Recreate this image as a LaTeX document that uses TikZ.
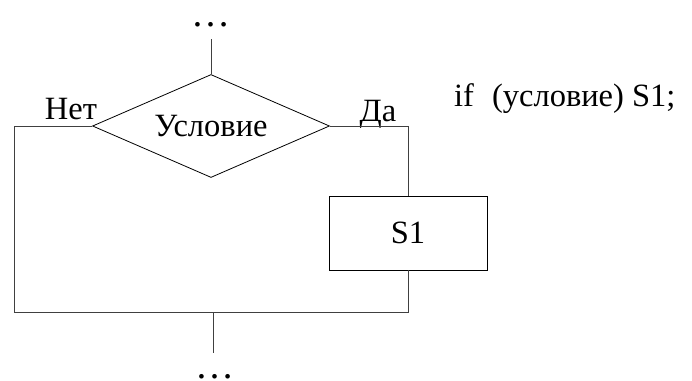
\documentclass[tikz,border=0pt]{standalone}
\usepackage{fontspec}
\setmainfont{Liberation Serif}
\usetikzlibrary{shapes.geometric}
\begin{document}
\begin{tikzpicture}[x=1pt,y=-1pt,
  line/.style={draw=black!75, line width=0.8pt},
  shapebox/.style={draw=black, line width=0.8pt},
  lbl/.style={font=\fontsize{32.5}{38}\selectfont, inner sep=0pt},
  dotlbl/.style={font=\fontsize{39}{44}\selectfont, inner sep=0pt, text height=6pt, text depth=0pt}]
\useasboundingbox (0,0) rectangle (692,380);
\node[dotlbl, anchor=base] (dtop) at (211,26) {…};
\coordinate (topin) at (211,39);
\node[diamond, shapebox, minimum width=237pt, minimum height=103pt, inner sep=0pt] (cond) at (211,126) {};
\node[lbl] (condtxt) at (cond.center) {Условие};
\coordinate (lc) at (14,126);
\coordinate (lb) at (14,312);
\coordinate (rc) at (408,126);
\node[rectangle, shapebox, minimum width=158pt, minimum height=74pt, lbl] (s1) at (408,233) {S1};
\coordinate (rb) at (408,312);
\coordinate (mb) at (213,312);
\coordinate (out) at (213,353);
\node[dotlbl, anchor=base] (dbot) at (215,378) {…};
\node[lbl, anchor=base] (no) at (71,119) {Нет};
\node[lbl, anchor=base] (yes) at (378,121) {Да};
\node[lbl, anchor=base west] (code) at (454,106) {if\hspace{18pt}(условие) S1;};
\draw[line] (topin) -- (cond.north);
\draw[line] (cond.west) -- (lc) -- (lb) -- (rb) -- (s1.south);
\draw[line] (cond.east) -- (rc) -- (s1.north);
\draw[line] (mb) -- (out);
\end{tikzpicture}
\end{document}
